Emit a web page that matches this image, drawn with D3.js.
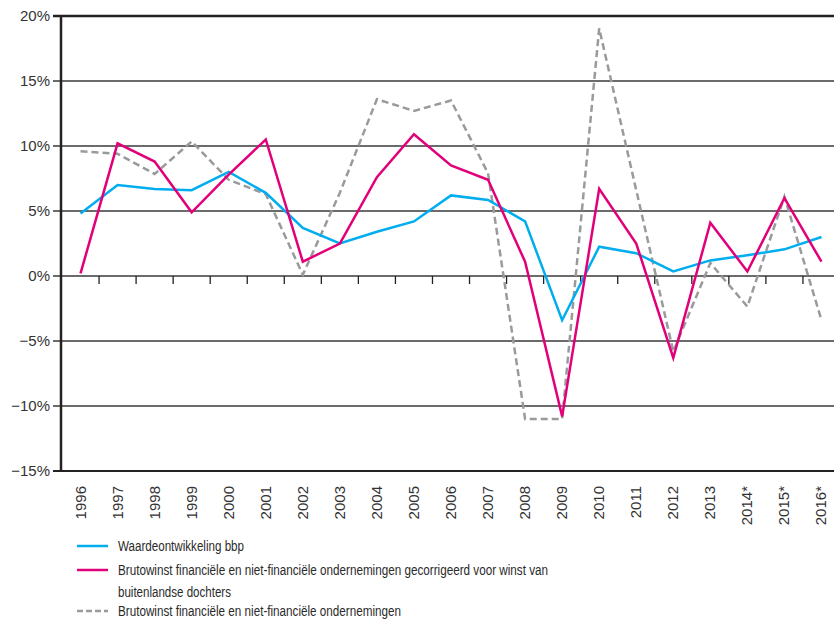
<!DOCTYPE html>
<html>
<head>
<meta charset="utf-8">
<script src="https://cdn.jsdelivr.net/npm/d3@7"></script>
<style>
  body { margin: 0; background: #fff; }
  svg { display: block; font-family: "Liberation Sans", Arial, sans-serif; }
</style>
</head>
<body>
<svg id="chart" width="834" height="620"></svg>
<script>
// data
const years = ['1996','1997','1998','1999','2000','2001','2002','2003','2004','2005','2006',
  '2007','2008','2009','2010','2011','2012','2013','2014*','2015*','2016*']
const bbp = [4.8, 7.0, 6.7, 6.6, 8.0, 6.4, 3.7, 2.5, 3.4, 4.2, 6.2,
  5.85, 4.2, -3.4, 2.25, 1.75, 0.35, 1.2, 1.6, 2.05, 3.0]
const winstGecorr = [0.2, 10.2, 8.8, 4.9, 7.8, 10.5, 1.1, 2.5, 7.6, 10.9, 8.5,
  7.4, 1.1, -10.8, 6.7, 2.5, -6.3, 4.1, 0.35, 6.0, 1.1]
const winst = [9.6, 9.4, 7.85, 10.35, 7.4, 6.3, 0.1, 6.4, 13.6, 12.7, 13.5,
  7.9, -11.0, -11.0, 19.05, 6.6, -5.8, 1.0, -2.35, 6.1, -3.4]
const yTicks = [20, 15, 10, 5, 0, -5, -10, -15]

const svg = d3.select('#chart')
const plotLeft = 62, plotTop = 16, plotBottom = 471

let x = d3.scaleBand().domain(years).range([plotLeft, 840])
let y = d3.scaleLinear().domain([-15, 20]).range([plotBottom, plotTop])

// gridlines + y labels
svg.append('g').selectAll('line')
  .data(yTicks.filter(d => d !== 20 && d !== -15))
  .join('line')
  .attr('x1', 53).attr('x2', 834)
  .attr('y1', d => y(d)).attr('y2', d => y(d))
  .attr('stroke', '#3a3a3a').attr('stroke-width', 1.3)

svg.append('g').selectAll('text')
  .data(yTicks)
  .join('text')
  .attr('x', 50).attr('y', d => y(d) + 5)
  .attr('text-anchor', 'end')
  .attr('font-size', 15).attr('fill', '#333')
  .text(d => (d < 0 ? '\u2212' + Math.abs(d) : d) + '%')

// top and bottom frame lines
svg.append('line').attr('x1', 53).attr('x2', 834).attr('y1', y(20)).attr('y2', y(20))
  .attr('stroke', '#222').attr('stroke-width', 2.5)
svg.append('line').attr('x1', 53).attr('x2', 834).attr('y1', y(-15)).attr('y2', y(-15))
  .attr('stroke', '#222').attr('stroke-width', 2.2)

// ticks on the zero line at category boundaries
svg.append('g').selectAll('line')
  .data(years.slice(1))
  .join('line')
  .attr('x1', d => x(d)).attr('x2', d => x(d))
  .attr('y1', y(0)).attr('y2', y(0) + 8)
  .attr('stroke', '#222').attr('stroke-width', 1.3)

// x labels, rotated
svg.append('g').selectAll('text')
  .data(years)
  .join('text')
  .attr('transform', d => `translate(${x(d) + x.bandwidth() / 2 + 5},486) rotate(-90)`)
  .attr('text-anchor', 'end')
  .attr('font-size', 15).attr('fill', '#333')
  .text(d => d)

// series lines
const line = d3.line()
  .x((d, i) => x(years[i]) + x.bandwidth() / 2)
  .y(d => y(d))

svg.append('path').datum(winst)
  .attr('d', line).attr('fill', 'none')
  .attr('stroke', '#999a9c').attr('stroke-width', 2.5)
  .attr('stroke-dasharray', '7,4')
svg.append('path').datum(bbp)
  .attr('d', line).attr('fill', 'none')
  .attr('stroke', '#00aeef').attr('stroke-width', 2.5)
svg.append('path').datum(winstGecorr)
  .attr('d', line).attr('fill', 'none')
  .attr('stroke', '#e2007a').attr('stroke-width', 2.5)

// left axis
svg.append('line').attr('x1', 61).attr('x2', 61).attr('y1', y(20) - 1).attr('y2', y(-15) + 1)
  .attr('stroke', '#222').attr('stroke-width', 2.5)

// legend
const legend = [
  { color: '#00aeef', dash: null, y: 546, lines: [['Waardeontwikkeling bbp', 126]] },
  { color: '#e2007a', dash: null, y: 570, lines: [
    ['Brutowinst financiële en niet-financiële ondernemingen gecorrigeerd voor winst van', 430],
    ['buitenlandse dochters', 113]] },
  { color: '#999a9c', dash: '6,3', y: 611, lines: [['Brutowinst financiële en niet-financiële ondernemingen', 283]] }
]

const lg = svg.append('g').selectAll('g').data(legend).join('g')
lg.append('line')
  .attr('x1', 77).attr('x2', 108)
  .attr('y1', d => d.y).attr('y2', d => d.y)
  .attr('stroke', d => d.color).attr('stroke-width', 2.5)
  .attr('stroke-dasharray', d => d.dash)
lg.each(function (d) {
  d3.select(this).selectAll('text')
    .data(d.lines)
    .join('text')
    .attr('x', 118)
    .attr('y', (t, i) => d.y + 5 + i * 22)
    .attr('font-size', 15.5).attr('fill', '#2a2a2a')
    .attr('textLength', t => t[1])
    .attr('lengthAdjust', 'spacingAndGlyphs')
    .text(t => t[0])
})
</script>
</body>
</html>
